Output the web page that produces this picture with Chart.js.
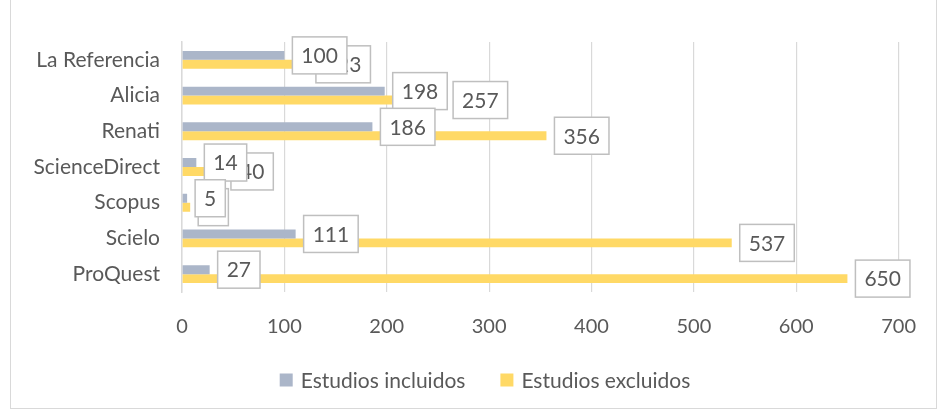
<!DOCTYPE html>
<html>
  <head>
    <script src="https://cdn.jsdelivr.net/npm/chart.js"></script>
    <style>
      body {
        margin: 0;
        background: #fff;
        font-family: Lato, sans-serif;
      }
      .frame {
        position: absolute;
        left: 10px;
        top: -2px;
        width: 925px;
        height: 409px;
        border: 1px solid #d9d9d9;
      }
      .chart-box {
        position: absolute;
        left: 0;
        top: 0;
        width: 939px;
        height: 410px;
      }
    </style>
  </head>
  <body>
    <div class="frame"></div>
    <div class="chart-box">
      <canvas id="sourcesChart"></canvas>
    </div>

    <script>
      var categories = ['La Referencia', 'Alicia', 'Renati', 'ScienceDirect', 'Scopus', 'Scielo', 'ProQuest'];
      var included = [100, 198, 186, 14, 5, 111, 27];
      var excluded = [123, 257, 356, 40, 8, 537, 650];
      var xTicks = [0, 100, 200, 300, 400, 500, 600, 700];

      var textColor = '#595959';
      var fontFam = 'Lato, sans-serif';

      // etiquetas con recuadro al final de cada barra
      var boxLabels = {
        id: 'boxLabels',
        afterDatasetsDraw: function(chart) {
          var ctx = chart.ctx;
          ctx.save();
          ctx.font = '21px ' + fontFam;
          ctx.textBaseline = 'middle';
          ctx.textAlign = 'center';
          [1, 0].forEach(function(di) {
            var meta = chart.getDatasetMeta(di);
            meta.data.forEach(function(bar, i) {
              var txt = String(chart.data.datasets[di].data[i]);
              var w = ctx.measureText(txt).width + 18;
              var h = 37;
              var x = bar.x + 8;
              var y = bar.y - h / 2;
              ctx.fillStyle = '#fff';
              ctx.fillRect(x, y, w, h);
              ctx.strokeStyle = '#bfbfbf';
              ctx.lineWidth = 1.5;
              ctx.strokeRect(x, y, w, h);
              ctx.fillStyle = textColor;
              ctx.fillText(txt, x + w / 2, y + h / 2 + 1);
            });
          });
          ctx.restore();
        }
      };

      // leyenda dibujada a mano para ajustar separaciones
      var bottomLegend = {
        id: 'bottomLegend',
        afterDraw: function(chart) {
          var ctx = chart.ctx;
          var sets = chart.data.datasets;
          ctx.save();
          ctx.font = '21px ' + fontFam;
          ctx.textBaseline = 'middle';
          ctx.textAlign = 'left';
          var box = 13, gap = 8, itemGap = 35;
          var total = 0;
          sets.forEach(function(ds, i) {
            total += box + gap + ctx.measureText(ds.label).width;
            if (i < sets.length - 1) total += itemGap;
          });
          var x = 485 - total / 2;
          var y = 380;
          sets.forEach(function(ds) {
            ctx.fillStyle = ds.backgroundColor;
            ctx.fillRect(x, y - box / 2, box, box);
            x += box + gap;
            ctx.fillStyle = textColor;
            ctx.fillText(ds.label, x, y + 1);
            x += ctx.measureText(ds.label).width + itemGap;
          });
          ctx.restore();
        }
      };

      var ctx = document.getElementById('sourcesChart').getContext('2d');
      new Chart(ctx, {
        type: 'bar',
        data: {
          labels: categories,
          datasets: [{
            label: 'Estudios incluidos',
            data: included,
            backgroundColor: '#abb6c9',
            barPercentage: 1.0,
            categoryPercentage: 0.5
          }, {
            label: 'Estudios excluidos',
            data: excluded,
            backgroundColor: '#ffd966',
            barPercentage: 1.0,
            categoryPercentage: 0.5
          }]
        },
        options: {
          indexAxis: 'y',
          responsive: true,
          maintainAspectRatio: false,
          animation: false,
          layout: {
            padding: { left: 0, right: 33, top: 42, bottom: 58 }
          },
          scales: {
            x: {
              min: 0,
              max: 700,
              afterBuildTicks: function(scale) {
                scale.ticks = xTicks.map(function(v) { return { value: v }; });
              },
              afterFit: function(scale) { scale.height = 60; },
              grid: { color: '#d9d9d9', lineWidth: 1.2, drawTicks: false },
              border: { display: false },
              ticks: {
                color: textColor,
                padding: 23,
                font: { family: fontFam, size: 20 }
              }
            },
            y: {
              afterFit: function(scale) { scale.width = 182; },
              grid: { display: false },
              border: { color: '#d9d9d9', width: 1.5 },
              ticks: {
                color: textColor,
                padding: 14,
                font: { family: fontFam, size: 21 }
              }
            }
          },
          plugins: {
            legend: { display: false },
            tooltip: { enabled: false }
          }
        },
        plugins: [boxLabels, bottomLegend]
      });
    </script>
  </body>
</html>
